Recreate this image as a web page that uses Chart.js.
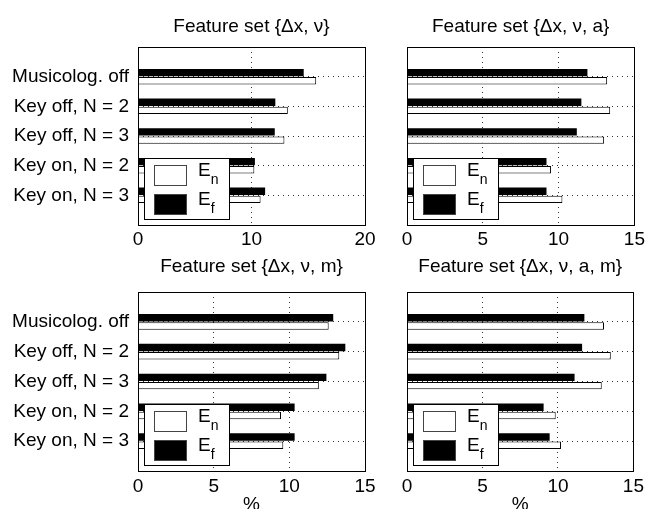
<!DOCTYPE html>
<html>
<head>
<meta charset="utf-8">
<script src="https://cdn.jsdelivr.net/npm/chart.js@4/dist/chart.umd.min.js"></script>
<style>
  html, body { margin: 0; padding: 0; background: #fff; overflow: hidden; }
  #wrap { position: relative; width: 648px; height: 509px; overflow: hidden; background: #fff; }
  #wrap canvas { position: absolute; left: 0; top: 0; }
</style>
</head>
<body>
<div id="wrap">
  <canvas id="panel1" width="648" height="530"></canvas>
  <canvas id="panel2" width="648" height="530"></canvas>
  <canvas id="panel3" width="648" height="530"></canvas>
  <canvas id="panel4" width="648" height="530"></canvas>
</div>
<script>
// ===========================
// Data
// ===========================
const categories = ['Musicolog. off', 'Key off, N = 2', 'Key off, N = 3', 'Key on, N = 2', 'Key on, N = 3'];
const titles = ['Feature set {\u0394x, \u03bd}', 'Feature set {\u0394x, \u03bd, a}',
                'Feature set {\u0394x, \u03bd, m}', 'Feature set {\u0394x, \u03bd, a, m}'];

// E_f (black) and E_n (white) error rates, %
const efSet1 = [14.6, 12.1, 12.05, 10.3, 11.2];
const enSet1 = [15.7, 13.2, 12.9, 10.25, 10.8];
const efSet2 = [11.9, 11.5, 11.2, 9.2, 9.2];
const enSet2 = [13.2, 13.4, 13.0, 9.5, 10.25];
const efSet3 = [12.9, 13.7, 12.45, 10.35, 10.35];
const enSet3 = [12.6, 13.3, 11.95, 9.45, 9.6];
const efSet4 = [11.75, 11.6, 11.1, 9.05, 9.45];
const enSet4 = [13.05, 13.5, 12.9, 9.85, 10.2];

const xMax = [20, 15, 15, 15];
const xStep = [10, 5, 5, 5];
const xAxisLabel = '%';

// ===========================
// Defaults
// ===========================
Chart.defaults.font.family = "'Liberation Sans', Arial, sans-serif";
Chart.defaults.font.size = 19;
Chart.defaults.color = '#000';

const CANVAS_W = 648, CANVAS_H = 530;
const dottedGrid = { color: '#333', lineWidth: 1, drawTicks: false, offset: false };
const dottedBorder = { display: false, dash: [1, 4] };

// box + in-axes legend, MATLAB style
const framePlugin = {
    id: 'frame',
    afterDraw(chart) {
        const { ctx, chartArea: a } = chart;
        ctx.save();
        ctx.strokeStyle = '#000';
        ctx.lineWidth = 1;
        ctx.strokeRect(Math.round(a.left) + 0.5, Math.round(a.top) + 0.5,
                       Math.round(a.right - a.left), Math.round(a.bottom - a.top));

        const bx = Math.round(a.left) + 6, by = Math.round(a.bottom) - 67;
        ctx.fillStyle = '#fff';
        ctx.fillRect(bx, by, 85, 61);
        ctx.strokeRect(bx + 0.5, by + 0.5, 85, 61);

        // legend order: E_n then E_f
        const items = chart.data.datasets.slice().reverse();
        items.forEach((ds, i) => {
            const sy = by + 7 + i * 29;
            ctx.fillStyle = ds.backgroundColor;
            ctx.fillRect(bx + 10, sy, 33, 21);
            ctx.strokeStyle = '#444';
            ctx.strokeRect(bx + 10.5, sy + 0.5, 32, 20);
            const [main, sub] = ds.label.split('_');
            ctx.fillStyle = '#000';
            ctx.textBaseline = 'alphabetic';
            ctx.textAlign = 'left';
            ctx.font = "19px 'Liberation Sans', Arial, sans-serif";
            ctx.fillText(main, bx + 54, sy + 11);
            const w = ctx.measureText(main).width;
            ctx.font = "14px 'Liberation Sans', Arial, sans-serif";
            ctx.fillText(sub, bx + 54 + w, sy + 19);
        });
        ctx.restore();
    }
};

// ===========================
// Panels
// ===========================
const panels = [
    { id: 'panel1', title: titles[0], ef: efSet1, en: enSet1, max: xMax[0], step: xStep[0],
      area: { left: 138, right: 365, top: 47, bottom: 225 }, yLabels: true, xTitle: false, titleGap: 8.6 },
    { id: 'panel2', title: titles[1], ef: efSet2, en: enSet2, max: xMax[1], step: xStep[1],
      area: { left: 407, right: 636, top: 47, bottom: 225 }, yLabels: false, xTitle: false, titleGap: 8.6 },
    { id: 'panel3', title: titles[2], ef: efSet3, en: enSet3, max: xMax[2], step: xStep[2],
      area: { left: 138, right: 365, top: 292, bottom: 471 }, yLabels: true, xTitle: true, titleGap: 14 },
    { id: 'panel4', title: titles[3], ef: efSet4, en: enSet4, max: xMax[3], step: xStep[3],
      area: { left: 407, right: 636, top: 292, bottom: 471 }, yLabels: false, xTitle: true, titleGap: 14 }
];

panels.forEach(p => {
    const yAxisW = p.yLabels ? p.area.left : 0;
    const xAxisH = p.xTitle ? 45 : 30;
    const titleLine = 19 * 1.2;

    new Chart(document.getElementById(p.id), {
        type: 'bar',
        data: {
            datasets: [{
                label: 'E_f',
                data: p.ef.map((v, i) => ({ x: v, y: i + 1 })),
                backgroundColor: '#000',
                borderColor: '#000',
                borderWidth: 0
            }, {
                label: 'E_n',
                data: p.en.map((v, i) => ({ x: v, y: i + 1 })),
                backgroundColor: '#fff',
                borderColor: '#000',
                borderWidth: 1,
                borderSkipped: 'start'
            }]
        },
        options: {
            responsive: false,
            animation: false,
            indexAxis: 'y',
            categoryPercentage: 0.55,
            barPercentage: 0.9,
            layout: {
                padding: {
                    left: p.area.left - yAxisW,
                    right: CANVAS_W - p.area.right,
                    top: 0,
                    bottom: CANVAS_H - p.area.bottom - xAxisH
                }
            },
            plugins: {
                legend: { display: false },
                tooltip: { enabled: false },
                title: {
                    display: true,
                    text: p.title,
                    fullSize: false,
                    font: { size: 19, weight: 'normal' },
                    color: '#000',
                    padding: { top: p.area.top - titleLine - p.titleGap, bottom: p.titleGap }
                }
            },
            scales: {
                x: {
                    type: 'linear',
                    min: 0,
                    max: p.max,
                    offset: false,
                    ticks: { stepSize: p.step, padding: p.xTitle ? 4 : 3, font: { size: 19 }, color: '#000' },
                    grid: dottedGrid,
                    border: dottedBorder,
                    title: {
                        display: p.xTitle,
                        text: xAxisLabel,
                        font: { size: 19 },
                        color: '#000',
                        padding: 0
                    },
                    afterFit: axis => { axis.height = xAxisH; }
                },
                y: {
                    type: 'linear',
                    min: 0,
                    max: categories.length + 1,
                    reverse: true,
                    offset: false,
                    ticks: {
                        display: p.yLabels,
                        stepSize: 1,
                        autoSkip: false,
                        padding: 9,
                        font: { size: 19 },
                        color: '#000',
                        callback: v => categories[v - 1] ?? ''
                    },
                    grid: dottedGrid,
                    border: dottedBorder,
                    afterFit: axis => { axis.width = yAxisW; }
                }
            }
        },
        plugins: [framePlugin]
    });
});
</script>
</body>
</html>
